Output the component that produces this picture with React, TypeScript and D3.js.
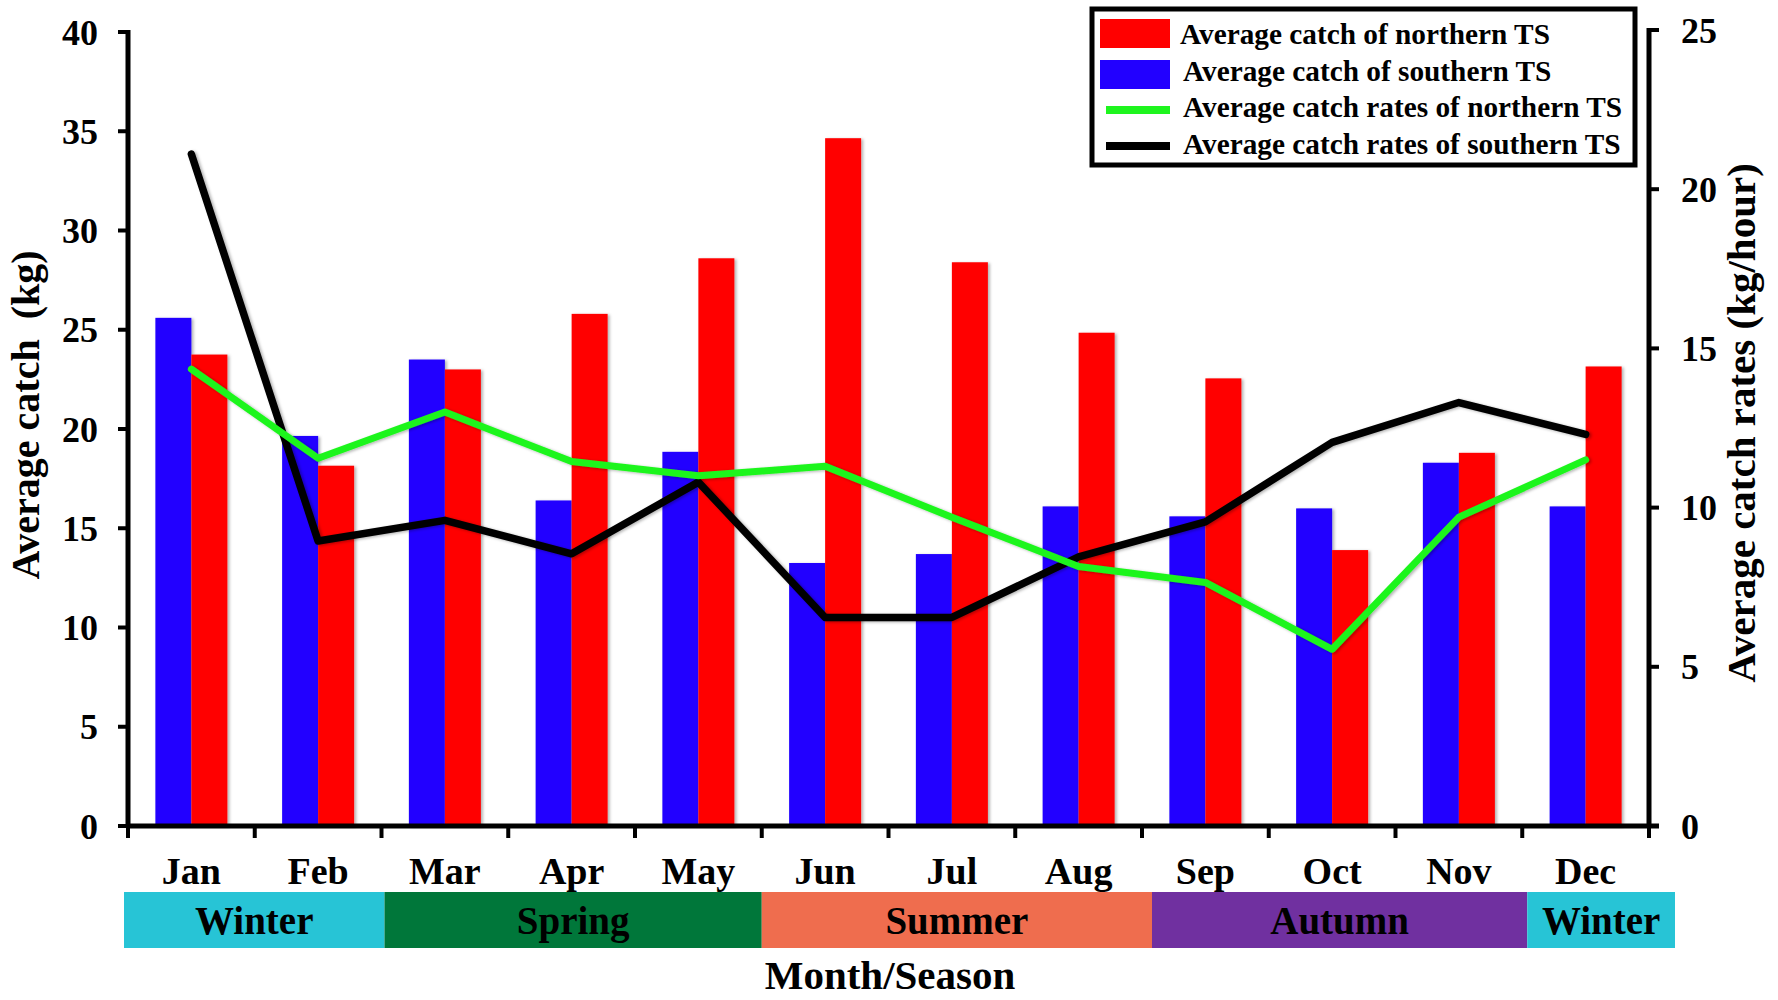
import React from "react";
import * as d3 from "d3";

const months = ["Jan", "Feb", "Mar", "Apr", "May", "Jun", "Jul", "Aug", "Sep", "Oct", "Nov", "Dec"];
const catchSouthern = [25.6, 19.65, 23.5, 16.4, 18.85, 13.25, 13.7, 16.1, 15.6, 16.0, 18.3, 16.1];
const catchNorthern = [23.75, 18.15, 23.0, 25.8, 28.6, 34.65, 28.4, 24.85, 22.55, 13.9, 18.8, 23.15];
const ratesNorthern = [14.35, 11.55, 13.0, 11.45, 11.0, 11.3, 9.7, 8.15, 7.65, 5.55, 9.7, 11.5];
const ratesSouthern = [21.1, 8.95, 9.6, 8.55, 10.8, 6.55, 6.55, 8.45, 9.55, 12.05, 13.3, 12.3];
const leftTicks = [0, 5, 10, 15, 20, 25, 30, 35, 40];
const rightTicks = [0, 5, 10, 15, 20, 25];
const seasonNames = ["Winter", "Spring", "Summer", "Autumn", "Winter"];
const seasonStart = [0, 2, 5, 8, 11];
const seasonEnd = [2, 5, 8, 11, 12];
const seasonColors = ["#27C4D6", "#00773A", "#EF6D4E", "#7030A0", "#27C4D6"];
const legendLabels = [
  "Average catch of northern TS",
  "Average catch of southern TS",
  "Average catch rates of northern TS",
  "Average catch rates of southern TS",
];
const RED = "#FF0000";
const BLUE = "#2200FF";
const GREEN = "#1EF51E";
const BLACK = "#000000";

const FONT = "'Liberation Serif', 'Times New Roman', serif";

// small hand offsets of the season band edges (px), as in the original drawing
const edgeShift = [-4, 3, 0, 10, 5, 26];

export default function App() {
  const W = 1778;
  const H = 1000;
  const left = 128;
  const right = 1649;
  const top = 32;
  const bottom = 826;

  const x = d3.scaleBand<string>().domain(months).range([left, right]).padding(0);
  const bw = 36;
  const yL = d3.scaleLinear().domain([0, 40]).range([bottom, top]);
  const yR = d3.scaleLinear().domain([0, 25]).range([bottom, top - 2]);

  const cx = (m: string) => (x(m) as number) + x.bandwidth() / 2;
  const lineN = d3
    .line<number>()
    .x((_, i) => cx(months[i]))
    .y((d) => yR(d));

  const bandEdge = (i: number) => left + i * x.bandwidth();
  const bandTop = 892;
  const bandH = 56;

  return (
    <svg width={W} height={H} style={{ display: "block", position: "absolute", left: 0, top: 0 }} fontFamily={FONT} fontWeight="bold">
      <defs>
        <filter id="sh" x="-20%" y="-5%" width="140%" height="110%">
          <feDropShadow dx="2" dy="1" stdDeviation="1.8" floodColor="#000" floodOpacity="0.3" />
        </filter>
      </defs>
      <rect width={W} height={H} fill="#fff" />

      {/* bars */}
      <g filter="url(#sh)">
        {months.map((m, i) => {
          const c = cx(m);
          return (
            <g key={m}>
              <rect x={c - bw} y={yL(catchSouthern[i])} width={bw} height={bottom - yL(catchSouthern[i])} fill={BLUE} />
              <rect x={c} y={yL(catchNorthern[i])} width={bw} height={bottom - yL(catchNorthern[i])} fill={RED} />
            </g>
          );
        })}
      </g>

      {/* lines */}
      <g filter="url(#sh)" fill="none" strokeLinecap="round" strokeLinejoin="round">
        <path d={lineN(ratesSouthern) || ""} stroke={BLACK} strokeWidth={7.5} />
        <path d={lineN(ratesNorthern) || ""} stroke={GREEN} strokeWidth={7} />
      </g>

      {/* left axis */}
      <line x1={left} x2={left} y1={top - 2} y2={bottom + 2} stroke="#000" strokeWidth={5} />
      {leftTicks.map((t) => (
        <g key={"l" + t}>
          <line x1={left - 10} x2={left} y1={yL(t)} y2={yL(t)} stroke="#000" strokeWidth={4} />
          <text x={98} y={yL(t)} dy="0.35em" textAnchor="end" fontSize={36}>
            {t}
          </text>
        </g>
      ))}

      {/* right axis */}
      <line x1={right} x2={right} y1={yR(25) - 2} y2={bottom + 2} stroke="#000" strokeWidth={5} />
      {rightTicks.map((t) => (
        <g key={"r" + t}>
          <line x1={right} x2={right + 10} y1={yR(t)} y2={yR(t)} stroke="#000" strokeWidth={4} />
          <text x={1681} y={yR(t)} dy="0.35em" textAnchor="start" fontSize={36}>
            {t}
          </text>
        </g>
      ))}

      {/* bottom axis */}
      <line x1={left - 2} x2={right + 10} y1={bottom} y2={bottom} stroke="#000" strokeWidth={5} />
      {d3.range(13).map((i) => (
        <line key={"xt" + i} x1={bandEdge(i)} x2={bandEdge(i)} y1={bottom} y2={bottom + 12} stroke="#000" strokeWidth={4} />
      ))}
      {months.map((m) => (
        <text key={"ml" + m} x={cx(m)} y={884} textAnchor="middle" fontSize={38}>
          {m}
        </text>
      ))}

      {/* seasons */}
      {seasonNames.map((s, i) => {
        const x0 = bandEdge(seasonStart[i]) + edgeShift[i];
        const x1 = bandEdge(seasonEnd[i]) + edgeShift[i + 1];
        return (
          <g key={"s" + i}>
            <rect x={x0} y={bandTop} width={x1 - x0} height={bandH} fill={seasonColors[i]} />
            <text x={(x0 + x1) / 2} y={934} textAnchor="middle" fontSize={39} fill="#000">
              {s}
            </text>
          </g>
        );
      })}

      <text x={890} y={989} textAnchor="middle" fontSize={41}>
        Month/Season
      </text>

      {/* axis titles */}
      <text transform="translate(39,415) rotate(-90)" textAnchor="middle" fontSize={40} style={{ whiteSpace: "pre" }}>
        {"Average catch  (kg)"}
      </text>
      <text transform="translate(1755,423) rotate(-90)" textAnchor="middle" fontSize={41}>
        Average catch rates (kg/hour)
      </text>

      {/* legend */}
      <rect x={1092} y={9} width={543} height={156} fill="#fff" stroke="#000" strokeWidth={5} />
      {legendLabels.map((l, i) => {
        const baseY = 44 + i * 36.5;
        return (
          <g key={"lg" + i}>
            {i < 2 ? (
              <rect x={1100} y={19 + i * 41} width={70} height={29} fill={i === 0 ? RED : BLUE} />
            ) : (
              <line x1={1106} x2={1170} y1={110 + (i - 2) * 36} y2={110 + (i - 2) * 36} stroke={i === 2 ? GREEN : BLACK} strokeWidth={8} />
            )}
            <text x={1180 + (i === 0 ? 0 : 3)} y={baseY} fontSize={29.3}>
              {l}
            </text>
          </g>
        );
      })}
    </svg>
  );
}
